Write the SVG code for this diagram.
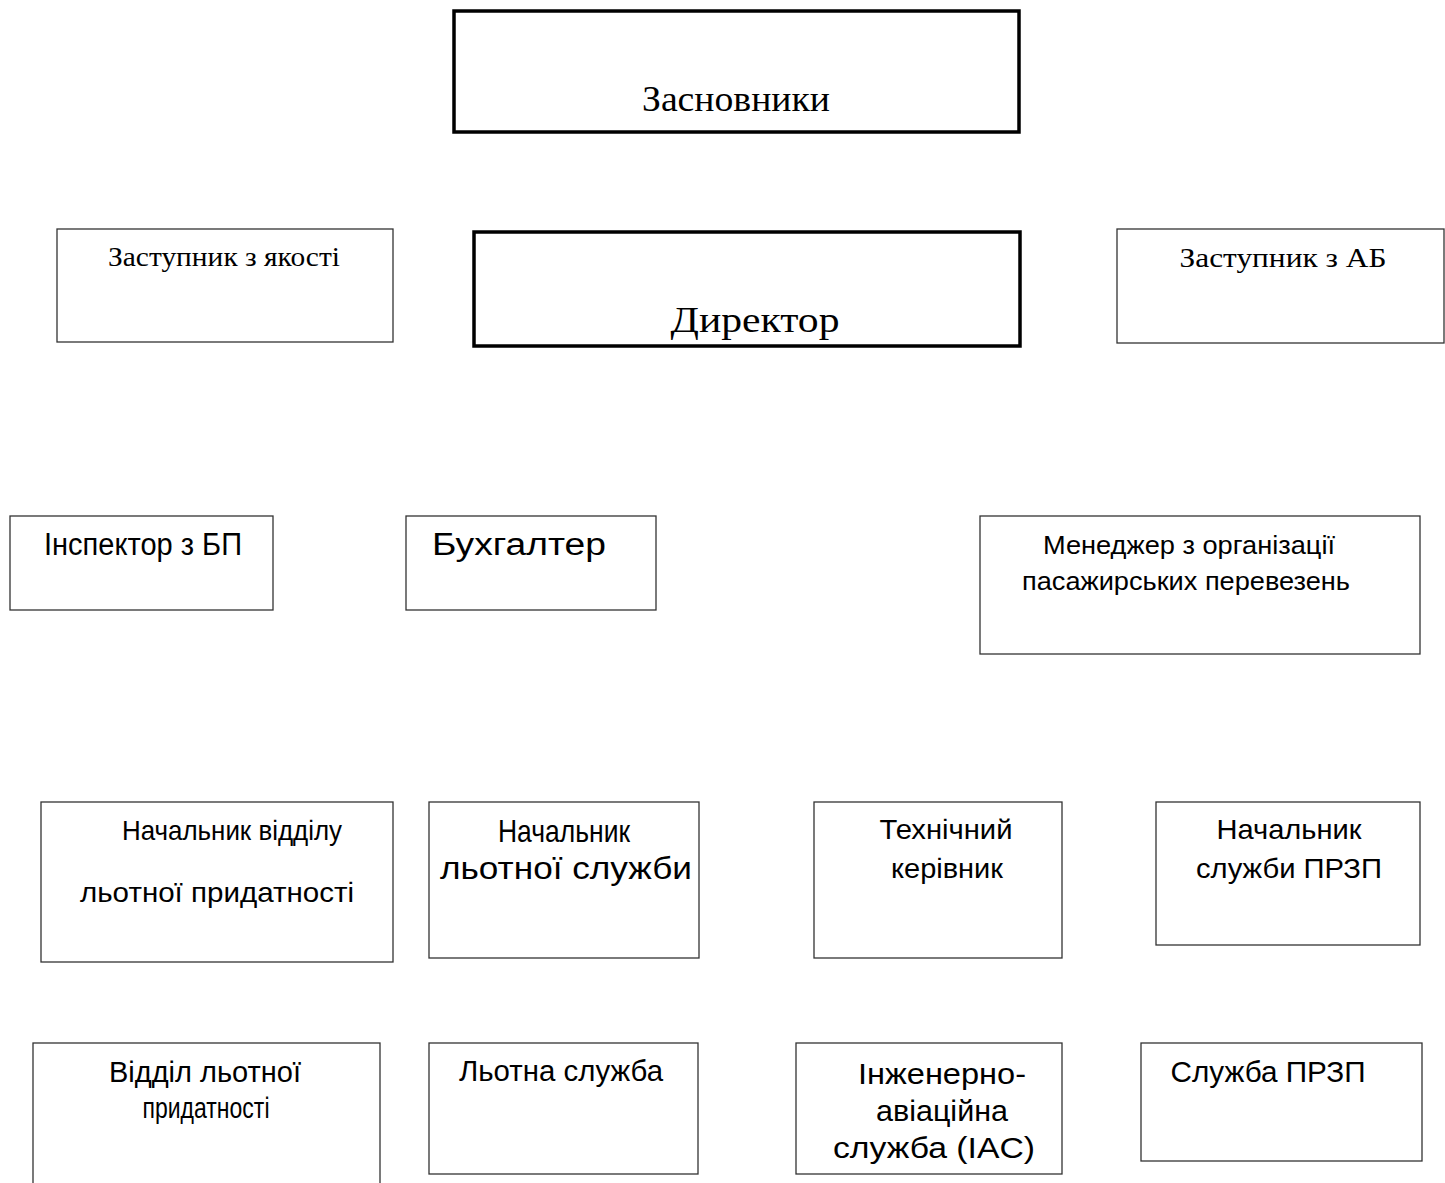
<svg xmlns="http://www.w3.org/2000/svg" width="1445" height="1183" viewBox="0 0 1445 1183">
<style>
.bg{fill:#ffffff}
.thick{fill:none;stroke:#000;stroke-width:3.5}
.thin{fill:none;stroke:#333;stroke-width:1.3}
.tr{font-family:"Liberation Serif","Times New Roman",serif;fill:#000;text-anchor:middle}
.ar{font-family:"Liberation Sans",Arial,sans-serif;fill:#000;text-anchor:middle}
</style>
<rect class="bg" x="0" y="0" width="1445" height="1183"/>
<g id="connectors"></g>
<g id="n_founders"><rect class="thick" x="454" y="11" width="565" height="121"/><text class="tr" x="736" y="111" font-size="36" textLength="188" lengthAdjust="spacingAndGlyphs">Засновники</text></g>
<g id="n_director"><rect class="thick" x="474" y="232" width="546" height="114"/><text class="tr" x="755" y="332" font-size="36" textLength="169" lengthAdjust="spacingAndGlyphs">Директор</text></g>
<g id="n_dep_quality"><rect class="thin" x="57" y="229" width="336" height="113"/><text class="tr" x="224" y="266" font-size="28" textLength="232" lengthAdjust="spacingAndGlyphs">Заступник з якості</text></g>
<g id="n_dep_ab"><rect class="thin" x="1117" y="229" width="327" height="114"/><text class="tr" x="1283" y="267" font-size="28" textLength="207" lengthAdjust="spacingAndGlyphs">Заступник з АБ</text></g>
<g id="n_inspector"><rect class="thin" x="10" y="516" width="263" height="94"/><text class="ar" x="143" y="555" font-size="31" textLength="198" lengthAdjust="spacingAndGlyphs">Інспектор з БП</text></g>
<g id="n_accountant"><rect class="thin" x="406" y="516" width="250" height="94"/><text class="ar" x="519" y="555" font-size="31" textLength="174" lengthAdjust="spacingAndGlyphs">Бухгалтер</text></g>
<g id="n_manager"><rect class="thin" x="980" y="516" width="440" height="138"/><text class="ar" x="1189" y="554" font-size="26" textLength="292" lengthAdjust="spacingAndGlyphs">Менеджер з організації</text><text class="ar" x="1186" y="590" font-size="26" textLength="328" lengthAdjust="spacingAndGlyphs">пасажирських перевезень</text></g>
<g id="n_head_airworth"><rect class="thin" x="41" y="802" width="352" height="160"/><text class="ar" x="232" y="840" font-size="28" textLength="220" lengthAdjust="spacingAndGlyphs">Начальник відділу</text><text class="ar" x="217" y="902" font-size="28" textLength="274" lengthAdjust="spacingAndGlyphs">льотної придатності</text></g>
<g id="n_head_flight"><rect class="thin" x="429" y="802" width="270" height="156"/><text class="ar" x="564" y="842" font-size="32" textLength="132" lengthAdjust="spacingAndGlyphs">Начальник</text><text class="ar" x="566" y="879" font-size="32" textLength="252" lengthAdjust="spacingAndGlyphs">льотної служби</text></g>
<g id="n_tech_head"><rect class="thin" x="814" y="802" width="248" height="156"/><text class="ar" x="946" y="839" font-size="28" textLength="133" lengthAdjust="spacingAndGlyphs">Технічний</text><text class="ar" x="947" y="878" font-size="28" textLength="112" lengthAdjust="spacingAndGlyphs">керівник</text></g>
<g id="n_head_przp"><rect class="thin" x="1156" y="802" width="264" height="143"/><text class="ar" x="1289" y="839" font-size="28" textLength="145" lengthAdjust="spacingAndGlyphs">Начальник</text><text class="ar" x="1289" y="878" font-size="28" textLength="186" lengthAdjust="spacingAndGlyphs">служби ПРЗП</text></g>
<g id="n_dept_airworth"><rect class="thin" x="33" y="1043" width="347" height="150"/><text class="ar" x="205" y="1082" font-size="29" textLength="192" lengthAdjust="spacingAndGlyphs">Відділ льотної</text><text class="ar" x="206" y="1118" font-size="29" textLength="127" lengthAdjust="spacingAndGlyphs">придатності</text></g>
<g id="n_flight_service"><rect class="thin" x="429" y="1043" width="269" height="131"/><text class="ar" x="561" y="1081" font-size="29" textLength="204" lengthAdjust="spacingAndGlyphs">Льотна служба</text></g>
<g id="n_ias"><rect class="thin" x="796" y="1043" width="266" height="131"/><text class="ar" x="942" y="1084" font-size="30" textLength="168" lengthAdjust="spacingAndGlyphs">Інженерно-</text><text class="ar" x="942" y="1121" font-size="30" textLength="132" lengthAdjust="spacingAndGlyphs">авіаційна</text><text class="ar" x="934" y="1158" font-size="30" textLength="202" lengthAdjust="spacingAndGlyphs">служба (IAC)</text></g>
<g id="n_przp"><rect class="thin" x="1141" y="1043" width="281" height="118"/><text class="ar" x="1268" y="1082" font-size="30" textLength="195" lengthAdjust="spacingAndGlyphs">Служба ПРЗП</text></g>
</svg>
